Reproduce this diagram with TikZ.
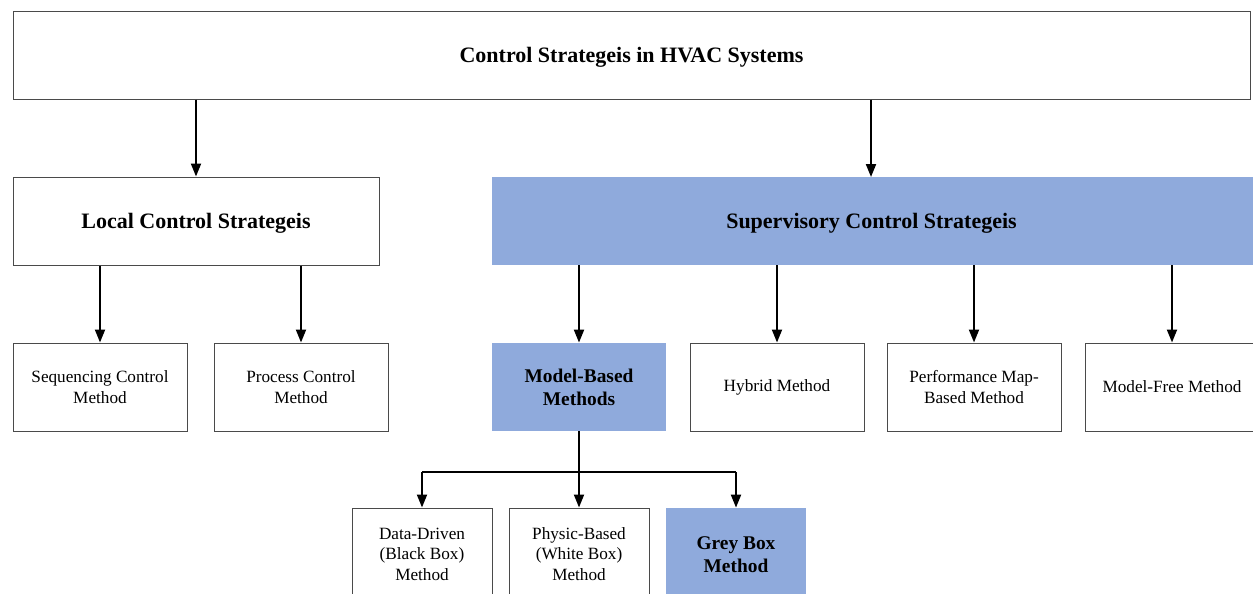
\documentclass[tikz,border=0pt]{standalone}
\usepackage{fontspec}
\setmainfont{Liberation Serif}
\usetikzlibrary{arrows.meta}
\definecolor{boxgray}{HTML}{4A4A4A}
\definecolor{boxblue}{HTML}{8FAADC}
\begin{document}
\begin{tikzpicture}[x=0.5pt,y=-0.5pt,
 box/.style={draw=boxgray,line width=0.5pt,fill=white,inner sep=0pt,align=center},
 bluebox/.style={fill=boxblue,draw=none,inner sep=0pt,align=center},
 big/.style={font=\fontsize{11}{13.5}\selectfont\bfseries,text height=9pt,text depth=1.8pt},
 small/.style={font=\fontsize{8.6}{10.4}\selectfont},
 mid/.style={font=\fontsize{9.7}{11.5}\selectfont\bfseries},
 rowbox/.style={minimum width=87pt,minimum height=44pt},
 botbox/.style={minimum width=70pt,minimum height=44pt},
 arr/.style={-{Triangle[width=5pt,length=6.5pt]},line width=1pt,black},
 ln/.style={line width=1pt,black}]
\useasboundingbox (0,0) rectangle (1253,594);
\clip (0,0) rectangle (1253,594);
\fill[white] (0,0) rectangle (1253,594);

\node[box,big,minimum width=618.5pt,minimum height=44pt] (top) at (631.5,55) {Control Strategeis in HVAC Systems};
\node[box,big,minimum width=183pt,minimum height=44pt] (local) at (196,221) {Local Control Strategeis};
\node[bluebox,big,minimum width=383.5pt,minimum height=44pt] (sup) at (875.5,221) {Supervisory Control Strategeis\hspace*{4pt}};

\node[box,small,rowbox] (seq) at (100,387) {Sequencing Control\\Method};
\node[box,small,rowbox] (proc) at (301,387) {Process Control\\Method};
\node[bluebox,mid,rowbox] (mb) at (579,387) {Model-Based\\Methods};
\node[box,small,rowbox] (hyb) at (777,387) {Hybrid Method};
\node[box,small,rowbox] (perf) at (974,387) {Performance Map-\\Based Method};
\node[box,small,rowbox] (mf) at (1172,387) {Model-Free Method};

\node[box,small,botbox] (dd) at (422,552) {\rule{0pt}{8pt}Data-Driven\\(Black Box)\\Method};
\node[box,small,botbox] (pb) at (579,552) {\rule{0pt}{8pt}Physic-Based\\(White Box)\\Method};
\node[bluebox,mid,botbox] (gb) at (736,552) {\rule{0pt}{9.5pt}Grey Box\\Method};

\coordinate (supin) at (871,177);
\draw[arr] (top.south -| local.north) -- (local.north);
\draw[arr] (top.south -| supin) -- (supin);

\draw[arr] (local.south -| seq.north) -- (seq.north);
\draw[arr] (local.south -| proc.north) -- (proc.north);
\draw[arr] (sup.south -| mb.north) -- (mb.north);
\draw[arr] (sup.south -| hyb.north) -- (hyb.north);
\draw[arr] (sup.south -| perf.north) -- (perf.north);
\draw[arr] (sup.south -| mf.north) -- (mf.north);

\draw[ln] (mb.south) -- ++(0,41) coordinate (br);
\draw[ln] (br -| dd.north) -- (br -| gb.north);
\draw[arr] (br -| dd.north) -- (dd.north);
\draw[arr] (br) -- (pb.north);
\draw[arr] (br -| gb.north) -- (gb.north);
\end{tikzpicture}
\end{document}
